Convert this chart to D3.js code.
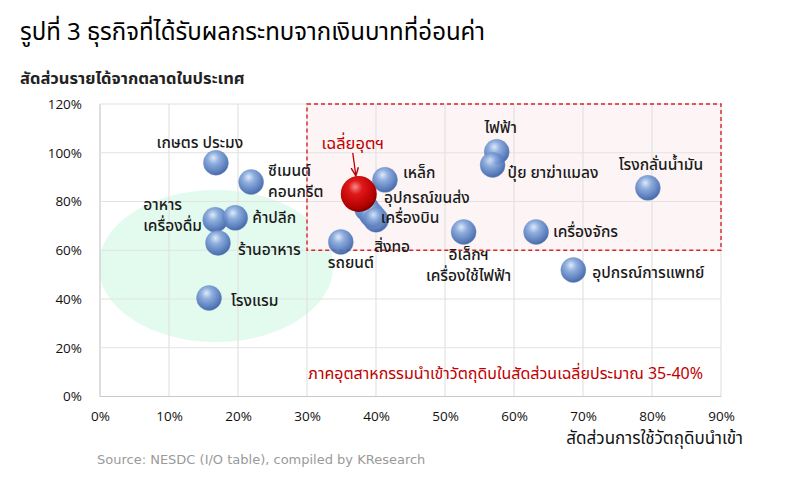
<!DOCTYPE html>
<html>
<head>
<meta charset="utf-8"/>
<script src="https://cdn.jsdelivr.net/npm/d3@7"></script>
<style>
  body { margin: 0; background: #fff; }
  text { font-family: Tahoma, "Noto Sans Thai", "Noto Sans", "DejaVu Sans", sans-serif; }
</style>
</head>
<body>
<script>

// data: share of imported raw materials (x) vs domestic revenue share (y), in %
var sectors = ["เกษตร ประมง", "ซีเมนต์ คอนกรีต", "อาหาร เครื่องดื่ม", "ค้าปลีก", "ร้านอาหาร", "โรงแรม",
  "รถยนต์", "เหล็ก", "อุปกรณ์ขนส่ง", "เครื่องบิน", "สิ่งทอ", "ไฟฟ้า", "ปุ๋ย ยาฆ่าแมลง",
  "โรงกลั่นน้ำมัน", "อิเล็กฯ เครื่องใช้ไฟฟ้า", "เครื่องจักร", "อุปกรณ์การแพทย์"];
var importShare   = [16.8, 21.9, 16.7, 19.6, 17.1, 15.8, 34.9, 41.3, 38.7, 39.4, 40.0, 57.5, 56.9, 79.4, 52.7, 63.2, 68.6];
var domesticShare = [95.9, 88.0, 72.5, 73.3, 63.0, 40.4, 63.4, 88.9, 77.0, 74.5, 72.5, 100.4, 95.0, 85.6, 67.5, 67.5, 51.9];
var avgPoint = { name: "เฉลี่ยอุตฯ", x: 37.5, y: 83.1 };
var xTicks = [0, 10, 20, 30, 40, 50, 60, 70, 80, 90];
var yTicks = [0, 20, 40, 60, 80, 100, 120];

// label placement relative to bubble centre (px)
var labelAt = {
  "เกษตร ประมง": { dx: -16, dy: -20, anchor: "middle" },
  "ซีเมนต์ คอนกรีต": { dx: 17, dy: -11, anchor: "start", lines: ["ซีเมนต์", "คอนกรีต"] },
  "อาหาร เครื่องดื่ม": { dx: -72, dy: -15, anchor: "start", lines: ["อาหาร", "เครื่องดื่ม"] },
  "ค้าปลีก": { dx: 17, dy: 0, anchor: "start" },
  "ร้านอาหาร": { dx: 20, dy: 7, anchor: "start" },
  "โรงแรม": { dx: 22, dy: 3, anchor: "start" },
  "รถยนต์": { dx: 10, dy: 21, anchor: "middle" },
  "เหล็ก": { dx: 18, dy: -7, anchor: "start" },
  "อุปกรณ์ขนส่ง": { dx: 17, dy: -11, anchor: "start" },
  "เครื่องบิน": { dx: 9, dy: 3, anchor: "start" },
  "สิ่งทอ": { dx: -2, dy: 27, anchor: "start" },
  "ไฟฟ้า": { dx: 4, dy: -24, anchor: "middle" },
  "ปุ๋ย ยาฆ่าแมลง": { dx: 15, dy: 8, anchor: "start" },
  "โรงกลั่นน้ำมัน": { dx: 13, dy: -23, anchor: "middle" },
  "อิเล็กฯ เครื่องใช้ไฟฟ้า": { dx: 5, dy: 23, anchor: "middle", lines: ["อิเล็กฯ", "เครื่องใช้ไฟฟ้า"] },
  "เครื่องจักร": { dx: 17, dy: 0, anchor: "start" },
  "อุปกรณ์การแพทย์": { dx: 19, dy: 3, anchor: "start" }
};

var W = 809, H = 484;
var svg = d3.select("body").append("svg").attr("width", W).attr("height", H);

var x = d3.scaleLinear().domain([0, 90]).range([100, 721]);
var y = d3.scaleLinear().domain([0, 120]).range([396.5, 104]);

var defs = svg.append("defs");
var gb = defs.append("radialGradient").attr("id", "blueBall")
  .attr("cx", "42%").attr("cy", "35%").attr("r", "65%").attr("fx", "40%").attr("fy", "30%");
gb.append("stop").attr("offset", "0%").attr("stop-color", "#dce8f8");
gb.append("stop").attr("offset", "35%").attr("stop-color", "#86a8dc");
gb.append("stop").attr("offset", "85%").attr("stop-color", "#4a70b4");
gb.append("stop").attr("offset", "100%").attr("stop-color", "#3a5c9c");
var gr = defs.append("radialGradient").attr("id", "redBall")
  .attr("cx", "42%").attr("cy", "35%").attr("r", "65%").attr("fx", "40%").attr("fy", "30%");
gr.append("stop").attr("offset", "0%").attr("stop-color", "#f48a8a");
gr.append("stop").attr("offset", "30%").attr("stop-color", "#e01818");
gr.append("stop").attr("offset", "85%").attr("stop-color", "#b00000");
gr.append("stop").attr("offset", "100%").attr("stop-color", "#7c0000");
defs.append("marker").attr("id", "arr").attr("viewBox", "0 0 10 10")
  .attr("refX", 8).attr("refY", 5).attr("markerWidth", 7).attr("markerHeight", 7)
  .attr("orient", "auto")
  .append("path").attr("d", "M0,1 L9,5 L0,9").attr("fill", "none")
  .attr("stroke", "#c00000").attr("stroke-width", 1.6);

// title
svg.append("text").attr("x", 20).attr("y", 40).attr("font-size", 24).attr("fill", "#000")
  .text("รูปที่ 3 ธุรกิจที่ได้รับผลกระทบจากเงินบาทที่อ่อนค่า");
svg.append("text").attr("x", 20).attr("y", 84).attr("font-size", 16.5).attr("font-weight", "bold")
  .attr("fill", "#222").text("สัดส่วนรายได้จากตลาดในประเทศ");

// green zone
svg.append("clipPath").attr("id", "plotClip").append("rect")
  .attr("x", x(0)).attr("y", y(120)).attr("width", x(90) - x(0)).attr("height", y(0) - y(120));
svg.append("ellipse").attr("clip-path", "url(#plotClip)")
  .attr("cx", x(16.8)).attr("cy", y(53.5)).attr("rx", x(17) - x(0)).attr("ry", y(0) - y(31.2))
  .attr("fill", "#e3fbee");

// highlight zone
svg.append("rect").attr("x", x(30)).attr("y", y(120))
  .attr("width", x(90) - x(30)).attr("height", y(60) - y(120))
  .attr("fill", "#fdf5f5");

// grid
svg.append("g").selectAll("line").data(xTicks).join("line")
  .attr("x1", d => x(d)).attr("x2", d => x(d)).attr("y1", y(0)).attr("y2", y(120))
  .attr("stroke", d => d === 0 ? "#c8c8c8" : "#e2e2e2").attr("stroke-width", 1.2);
svg.append("g").selectAll("line").data(yTicks).join("line")
  .attr("x1", x(0)).attr("x2", x(90)).attr("y1", d => y(d)).attr("y2", d => y(d))
  .attr("stroke", d => d === 0 ? "#c8c8c8" : "#e2e2e2").attr("stroke-width", 1.2);

svg.append("rect").attr("x", x(30)).attr("y", y(120))
  .attr("width", x(90) - x(30)).attr("height", y(60) - y(120))
  .attr("fill", "none").attr("stroke", "#d9262b").attr("stroke-width", 1.4)
  .attr("stroke-dasharray", "4,3");

// axes
var xAxis = svg.append("g").attr("transform", "translate(0," + (y(0) + 12) + ")")
  .call(d3.axisBottom(x).tickValues(xTicks).tickFormat(d => d + "%").tickSize(0));
xAxis.select(".domain").remove();
xAxis.selectAll("text").attr("font-size", 13.5).attr("fill", "#111")
  .style("font-family", "'Open Sans', sans-serif");
var yAxis = svg.append("g").attr("transform", "translate(" + (x(0) - 15) + ",0)")
  .call(d3.axisLeft(y).tickValues(yTicks).tickFormat(d => d + "%").tickSize(0));
yAxis.select(".domain").remove();
yAxis.selectAll("text").attr("font-size", 13.5).attr("fill", "#111")
  .style("font-family", "'Open Sans', sans-serif");

svg.append("text").attr("x", 743).attr("y", 444).attr("text-anchor", "end")
  .attr("font-size", 17).attr("fill", "#111").text("สัดส่วนการใช้วัตถุดิบนำเข้า");

// bubbles
var pts = sectors.map((s, i) => ({ name: s, x: importShare[i], y: domesticShare[i] }));
svg.append("g").selectAll("circle").data(pts).join("circle")
  .attr("cx", d => x(d.x)).attr("cy", d => y(d.y)).attr("r", 12.5)
  .attr("fill", "url(#blueBall)").attr("fill-opacity", 0.92)
  .attr("stroke", "#6f8fc6").attr("stroke-opacity", 0.5).attr("stroke-width", 0.8);

svg.append("circle").attr("cx", x(avgPoint.x)).attr("cy", y(avgPoint.y)).attr("r", 18)
  .attr("fill", "url(#redBall)");

// labels
var lab = svg.append("g").attr("font-size", 15.5).attr("font-weight", 500).attr("fill", "#1a1a1a");
pts.forEach(function (d) {
  var L = labelAt[d.name];
  var lines = L.lines || [d.name];
  var t = lab.append("text").attr("text-anchor", L.anchor)
    .attr("x", x(d.x) + L.dx).attr("y", y(d.y) + L.dy);
  lines.forEach(function (ln, k) {
    t.append("tspan").attr("x", x(d.x) + L.dx).attr("dy", k === 0 ? "0.35em" : "1.32em").text(ln);
  });
});

svg.append("text").attr("x", x(avgPoint.x) - 6).attr("y", y(avgPoint.y) - 51)
  .attr("dy", "0.35em").attr("text-anchor", "middle").attr("font-size", 16.5)
  .attr("fill", "#c00000").text(avgPoint.name);
svg.append("line").attr("x1", x(avgPoint.x) - 6).attr("y1", y(avgPoint.y) - 41)
  .attr("x2", x(avgPoint.x) - 3).attr("y2", y(avgPoint.y) - 19)
  .attr("stroke", "#c00000").attr("stroke-width", 1.3).attr("marker-end", "url(#arr)");

svg.append("text").attr("x", 703).attr("y", 373).attr("dy", "0.35em").attr("text-anchor", "end")
  .attr("font-size", 16).attr("fill", "#c00000")
  .text("ภาคอุตสาหกรรมนำเข้าวัตถุดิบในสัดส่วนเฉลี่ยประมาณ 35-40%");

svg.append("text").attr("x", 97).attr("y", 464).attr("font-size", 13).attr("fill", "#9a9a9a")
  .style("font-family", "'DejaVu Sans', sans-serif")
  .text("Source: NESDC (I/O table), compiled by KResearch");

</script>
</body>
</html>
